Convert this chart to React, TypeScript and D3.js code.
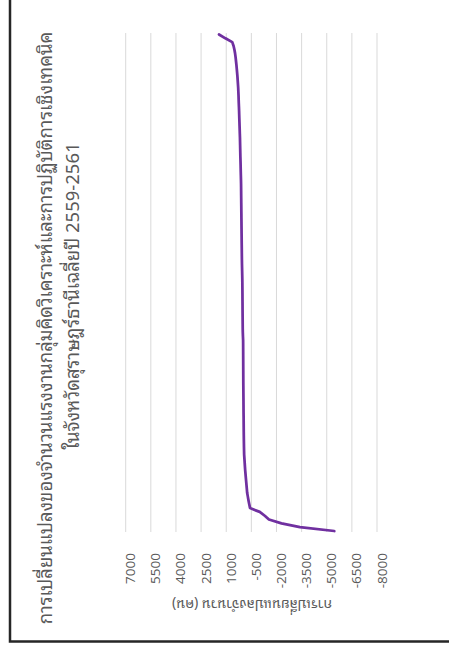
import React from "react";
import * as d3 from "d3";

// Net change in workers per sub-district, sorted from largest gain to largest loss
const changeValues: number[] = [
  1430, 1050, 640, 560, 510, 470, 440, 415, 390, 370,
  350, 330, 315, 300, 285, 275, 265, 258, 250, 240,
  232, 225, 218, 210, 203, 195, 188, 180, 175, 170,
  165, 160, 155, 148, 142, 137, 132, 126, 120, 115,
  112, 110, 108, 105, 103, 100, 98, 95, 93, 90,
  88, 85, 83, 80, 78, 75, 72, 70, 67, 64,
  60, 55, 50, 45, 40, 37, 35, 33, 31, 30,
  28, 26, 25, 23, 21, 19, 17, 15, 10, 2,
  -8, -10, -11, -12, -13, -14, -15, -16, -17, -18,
  -19, -20, -22, -24, -26, -28, -30, -32, -33, -35,
  -38, -40, -42, -44, -46, -49, -52, -56, -60, -65,
  -70, -85, -100, -115, -130, -150, -170, -190, -210, -230,
  -250, -290, -330, -375, -420, -1000, -1300, -1550, -2300, -3400,
  -5450,
];

const valueTicks: number[] = [7000, 5500, 4000, 2500, 1000, -500, -2000, -3500, -5000, -6500, -8000];

const titleLines: string[] = [
  "การเปลี่ยนแปลงของจำนวนแรงงานกลุ่มคิดวิเคราะห์และการปฏิบัติการเชิงเทคนิค",
  "ในจังหวัดสุราษฎร์ธานีเฉลี่ยปี 2559-2561",
];

const axisTitle = "การเปลี่ยนแปลงจำนวน (คน)";

const W = 449;
const H = 649;
const FONT =
  "'Noto Sans Thai Looped', 'Tlwg Typo', 'Loma', 'Garuda', 'Noto Sans', 'Noto Sans Thai', 'Open Sans', sans-serif";
const TEXT = "#595959";

export default function App() {
  // The chart is laid out sideways: values run across, sub-districts run down.
  const x = d3.scaleLinear().domain([7000, -8000]).range([125.7, 377]);
  const y = d3
    .scalePoint<number>()
    .domain(changeValues.map((_, i) => i))
    .range([34.5, 531]);

  const line = d3
    .line<number>()
    .x((d) => x(d))
    .y((_, i) => y(i) as number);

  return (
    <svg
      width={W}
      height={H}
      style={{ position: "absolute", left: 0, top: 0, background: "#fff" }}
      fontFamily={FONT}
    >
      {/* chart frame */}
      <path d={`M10,0 V641.5 H${W}`} fill="none" stroke="#262626" strokeWidth={2.5} />

      {/* gridlines */}
      {valueTicks.map((t) => (
        <line key={t} x1={x(t)} x2={x(t)} y1={33} y2={532} stroke="#d9d9d9" strokeWidth={1} />
      ))}

      {/* tick labels */}
      {valueTicks.map((t) => (
        <text
          key={t}
          transform={`translate(${x(t) + 9.5},553) rotate(-90)`}
          textAnchor="end"
          fontSize={13.5}
          fontFamily="'Open Sans', 'Noto Sans', sans-serif"
          fill={TEXT}
        >
          {t}
        </text>
      ))}

      {/* value axis title */}
      <text
        transform={`translate(252,600) rotate(180)`}
        textAnchor="middle"
        fontSize={14}
        fill={TEXT}
      >
        {axisTitle}
      </text>

      {/* series */}
      <path
        d={line(changeValues) ?? ""}
        fill="none"
        stroke="#7030a0"
        strokeWidth={2.75}
        strokeLinejoin="round"
        strokeLinecap="round"
      />

      {/* chart title */}
      <text transform={`translate(52,328) rotate(-90)`} textAnchor="middle" fontSize={18.5} fill={TEXT}>
        {titleLines[0]}
      </text>
      <text transform={`translate(79,296) rotate(-90)`} textAnchor="middle" fontSize={18.5} fill={TEXT}>
        {titleLines[1]}
      </text>
    </svg>
  );
}
